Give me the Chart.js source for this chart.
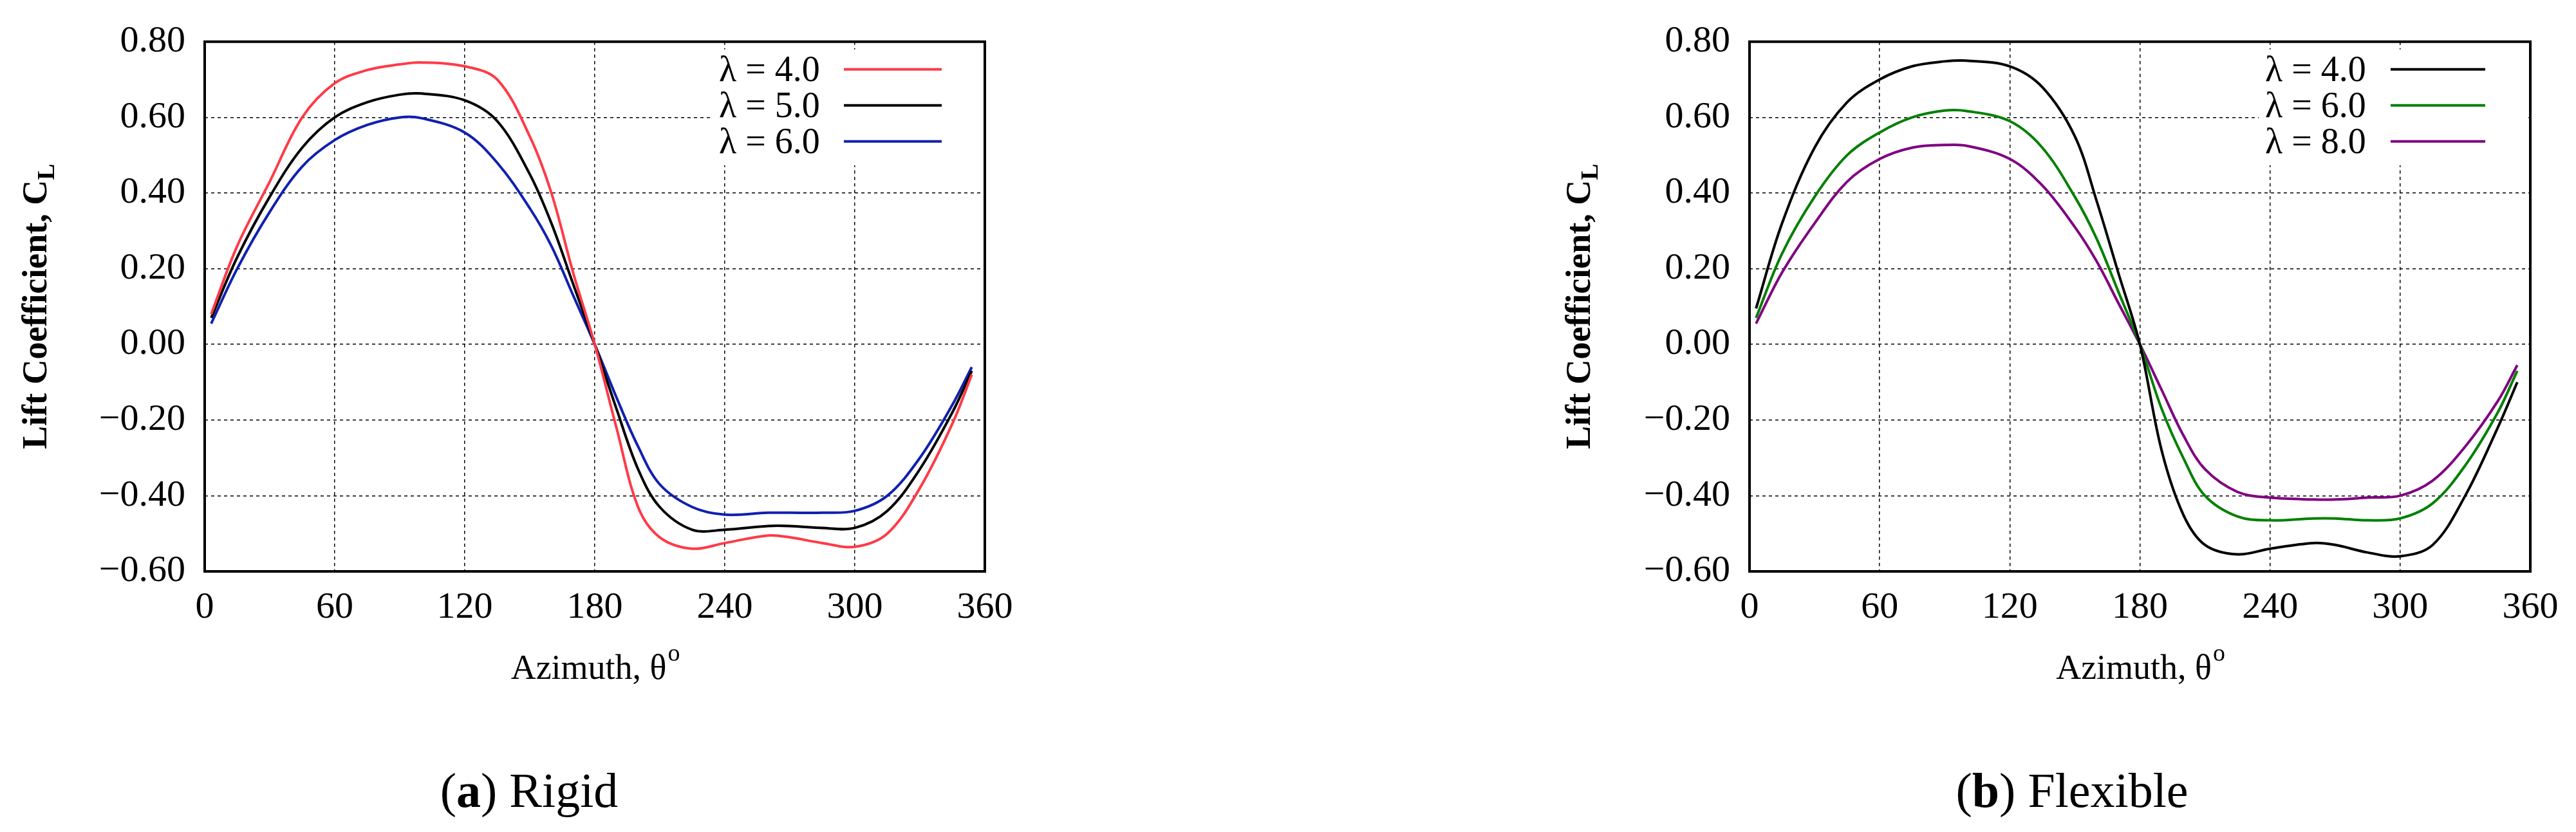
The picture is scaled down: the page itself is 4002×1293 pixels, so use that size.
<!DOCTYPE html>
<html><head><meta charset="utf-8">
<script src="https://cdn.jsdelivr.net/npm/chart.js@4"></script>
<style>
body{margin:0;background:#fff;width:4002px;height:1293px;position:relative;overflow:hidden;font-family:"Liberation Serif",serif}
.box{position:absolute;top:0;height:1100px}
.cap{position:absolute;top:1185px;font-family:"Liberation Serif",serif;font-size:76px;transform:translateX(-50%);white-space:nowrap}
</style></head><body>
<div class="box" style="left:0;width:1700px"><canvas id="c1"></canvas></div>
<div class="box" style="left:2300px;width:1702px"><canvas id="c2"></canvas></div>
<div class="cap" style="left:822px">(<b>a</b>) Rigid</div>
<div class="cap" style="left:3219px">(<b>b</b>) Flexible</div>
<script>
const azimuth = [3,15,30,45,60,75,90,100,120,135,150,160,170,180,190,200,210,225,240,260,270,285,300,315,330,345,354];
const xTicks = [0,60,120,180,240,300,360];
const yTicks = [-0.6,-0.4,-0.2,0,0.2,0.4,0.6,0.8];
const rigidLabels = ['λ = 4.0','λ = 5.0','λ = 6.0'];
const rigid4 = [0.08,0.26,0.43,0.60,0.69,0.725,0.74,0.745,0.735,0.70,0.55,0.40,0.19,0,-0.22,-0.43,-0.51,-0.54,-0.525,-0.505,-0.51,-0.525,-0.535,-0.50,-0.38,-0.21,-0.08];
const rigid5 = [0.07,0.23,0.39,0.52,0.60,0.64,0.66,0.663,0.645,0.59,0.45,0.32,0.16,0,-0.17,-0.33,-0.43,-0.49,-0.49,-0.48,-0.48,-0.485,-0.485,-0.44,-0.33,-0.18,-0.07];
const rigid6 = [0.055,0.20,0.35,0.47,0.54,0.58,0.60,0.598,0.56,0.48,0.36,0.26,0.13,0,-0.14,-0.27,-0.37,-0.43,-0.45,-0.445,-0.445,-0.445,-0.44,-0.40,-0.30,-0.16,-0.06];
const flexLabels = ['λ = 4.0','λ = 6.0','λ = 8.0'];
const flex4 = [0.095,0.32,0.52,0.64,0.70,0.735,0.748,0.75,0.735,0.68,0.55,0.38,0.19,0,-0.28,-0.45,-0.53,-0.555,-0.54,-0.525,-0.53,-0.55,-0.56,-0.53,-0.40,-0.22,-0.10];
const flex6 = [0.07,0.24,0.39,0.50,0.56,0.60,0.618,0.617,0.59,0.52,0.39,0.28,0.14,0,-0.17,-0.30,-0.40,-0.455,-0.465,-0.46,-0.46,-0.465,-0.46,-0.42,-0.32,-0.18,-0.07];
const flex8 = [0.055,0.19,0.32,0.43,0.49,0.52,0.527,0.525,0.49,0.42,0.31,0.22,0.11,0,-0.12,-0.24,-0.33,-0.39,-0.405,-0.41,-0.41,-0.405,-0.40,-0.36,-0.27,-0.15,-0.055];

const FONT="'Liberation Serif', serif";
function ds(label, vals, color){
  return {label, data: azimuth.map((x,i)=>({x, y: vals[i]})), borderColor: color, borderWidth: 4, pointRadius: 0, tension: 0.35, fill:false};
}
function fmt(v){ const s=Math.abs(v).toFixed(2); return v<0? '\u2212'+s : s; }

function make(id, datasets, yW, rightPad, legend){
  const deco = {
    id:'deco',
    beforeDatasetsDraw(ch){
      const c=ch.ctx, a=ch.chartArea;
      c.save(); c.fillStyle='#fff';
      c.fillRect(legend.tx-10, a.top+12, a.right-4-(legend.tx-10), 180);
      c.restore();
    },
    afterDraw(ch){
      const c=ch.ctx, a=ch.chartArea;
      c.save();
      c.strokeStyle='#000'; c.lineWidth=4; c.strokeRect(a.left, a.top, a.right-a.left, a.bottom-a.top);
      c.fillStyle='#000'; c.font='56px '+FONT; c.textBaseline='middle';
      ch.data.datasets.forEach((d,i)=>{
        const y=a.top+43+i*56;
        c.fillText(d.label, legend.tx, y+3);
        c.strokeStyle=d.borderColor; c.lineWidth=4;
        c.beginPath(); c.moveTo(legend.l1,y); c.lineTo(legend.l2,y); c.stroke();
      });
      c.fillStyle='#000'; c.textBaseline='alphabetic';
      c.font='54px '+FONT;
      const cx=(a.left+a.right)/2, ty=1055;
      const t='Azimuth, θ'; const w=c.measureText(t).width; const sw=c.measureText('o').width*0.7;
      const x0=cx-(w+sw)/2;
      c.fillText(t,x0,ty); c.font='38px '+FONT; c.fillText('o',x0+w+2,ty-28);
      c.translate(legend.ytx,(a.top+a.bottom)/2); c.rotate(-Math.PI/2);
      c.font='bold 54px '+FONT;
      const t2='Lift Coefficient, C'; const w2=c.measureText(t2).width;
      c.fillText(t2,-(w2+25)/2,18); c.font='bold 38px '+FONT; c.fillText('L',-(w2+25)/2+w2,30);
      c.restore();
    }
  };
  return new Chart(document.getElementById(id),{
    type:'line',
    data:{datasets},
    options:{
      responsive:true, maintainAspectRatio:false, animation:false,
      layout:{padding:{top:48,right:rightPad,left:0,bottom:0}, autoPadding:false},
      plugins:{legend:{display:false},tooltip:{enabled:false}},
      scales:{
        x:{type:'linear',min:0,max:360,
          afterBuildTicks:s=>{s.ticks=xTicks.map(v=>({value:v}));},
          afterFit:s=>{s.height=212;},
          grid:{color:'#000',lineWidth:1.5,drawTicks:false},
          border:{display:false, dash:[5,5]},
          ticks:{color:'#000',font:{family:FONT,size:58},padding:22,maxRotation:0}},
        y:{min:-0.6,max:0.8,
          afterBuildTicks:s=>{s.ticks=yTicks.map(v=>({value:v}));},
          afterFit:s=>{s.width=yW;},
          grid:{color:'#000',lineWidth:1.5,drawTicks:false},
          border:{display:false, dash:[5,5]},
          ticks:{color:'#000',font:{family:FONT,size:58},padding:30,callback:v=>fmt(v)}}
      }
    },
    plugins:[deco]
  });
}
function build(){
  make('c1',[ds(rigidLabels[0],rigid4,'#ff3a46'),ds(rigidLabels[1],rigid5,'#000000'),ds(rigidLabels[2],rigid6,'#1020b0')],318,170,{tx:1117,l1:1311,l2:1463,ytx:54});
  make('c2',[ds(flexLabels[0],flex4,'#000000'),ds(flexLabels[1],flex6,'#008000'),ds(flexLabels[2],flex8,'#800080')],418,71,{tx:1219,l1:1414,l2:1561,ytx:152});
}
Promise.all([document.fonts.load("56px 'Liberation Serif'"),document.fonts.load("bold 56px 'Liberation Serif'")]).then(build,build);
</script></body></html>
